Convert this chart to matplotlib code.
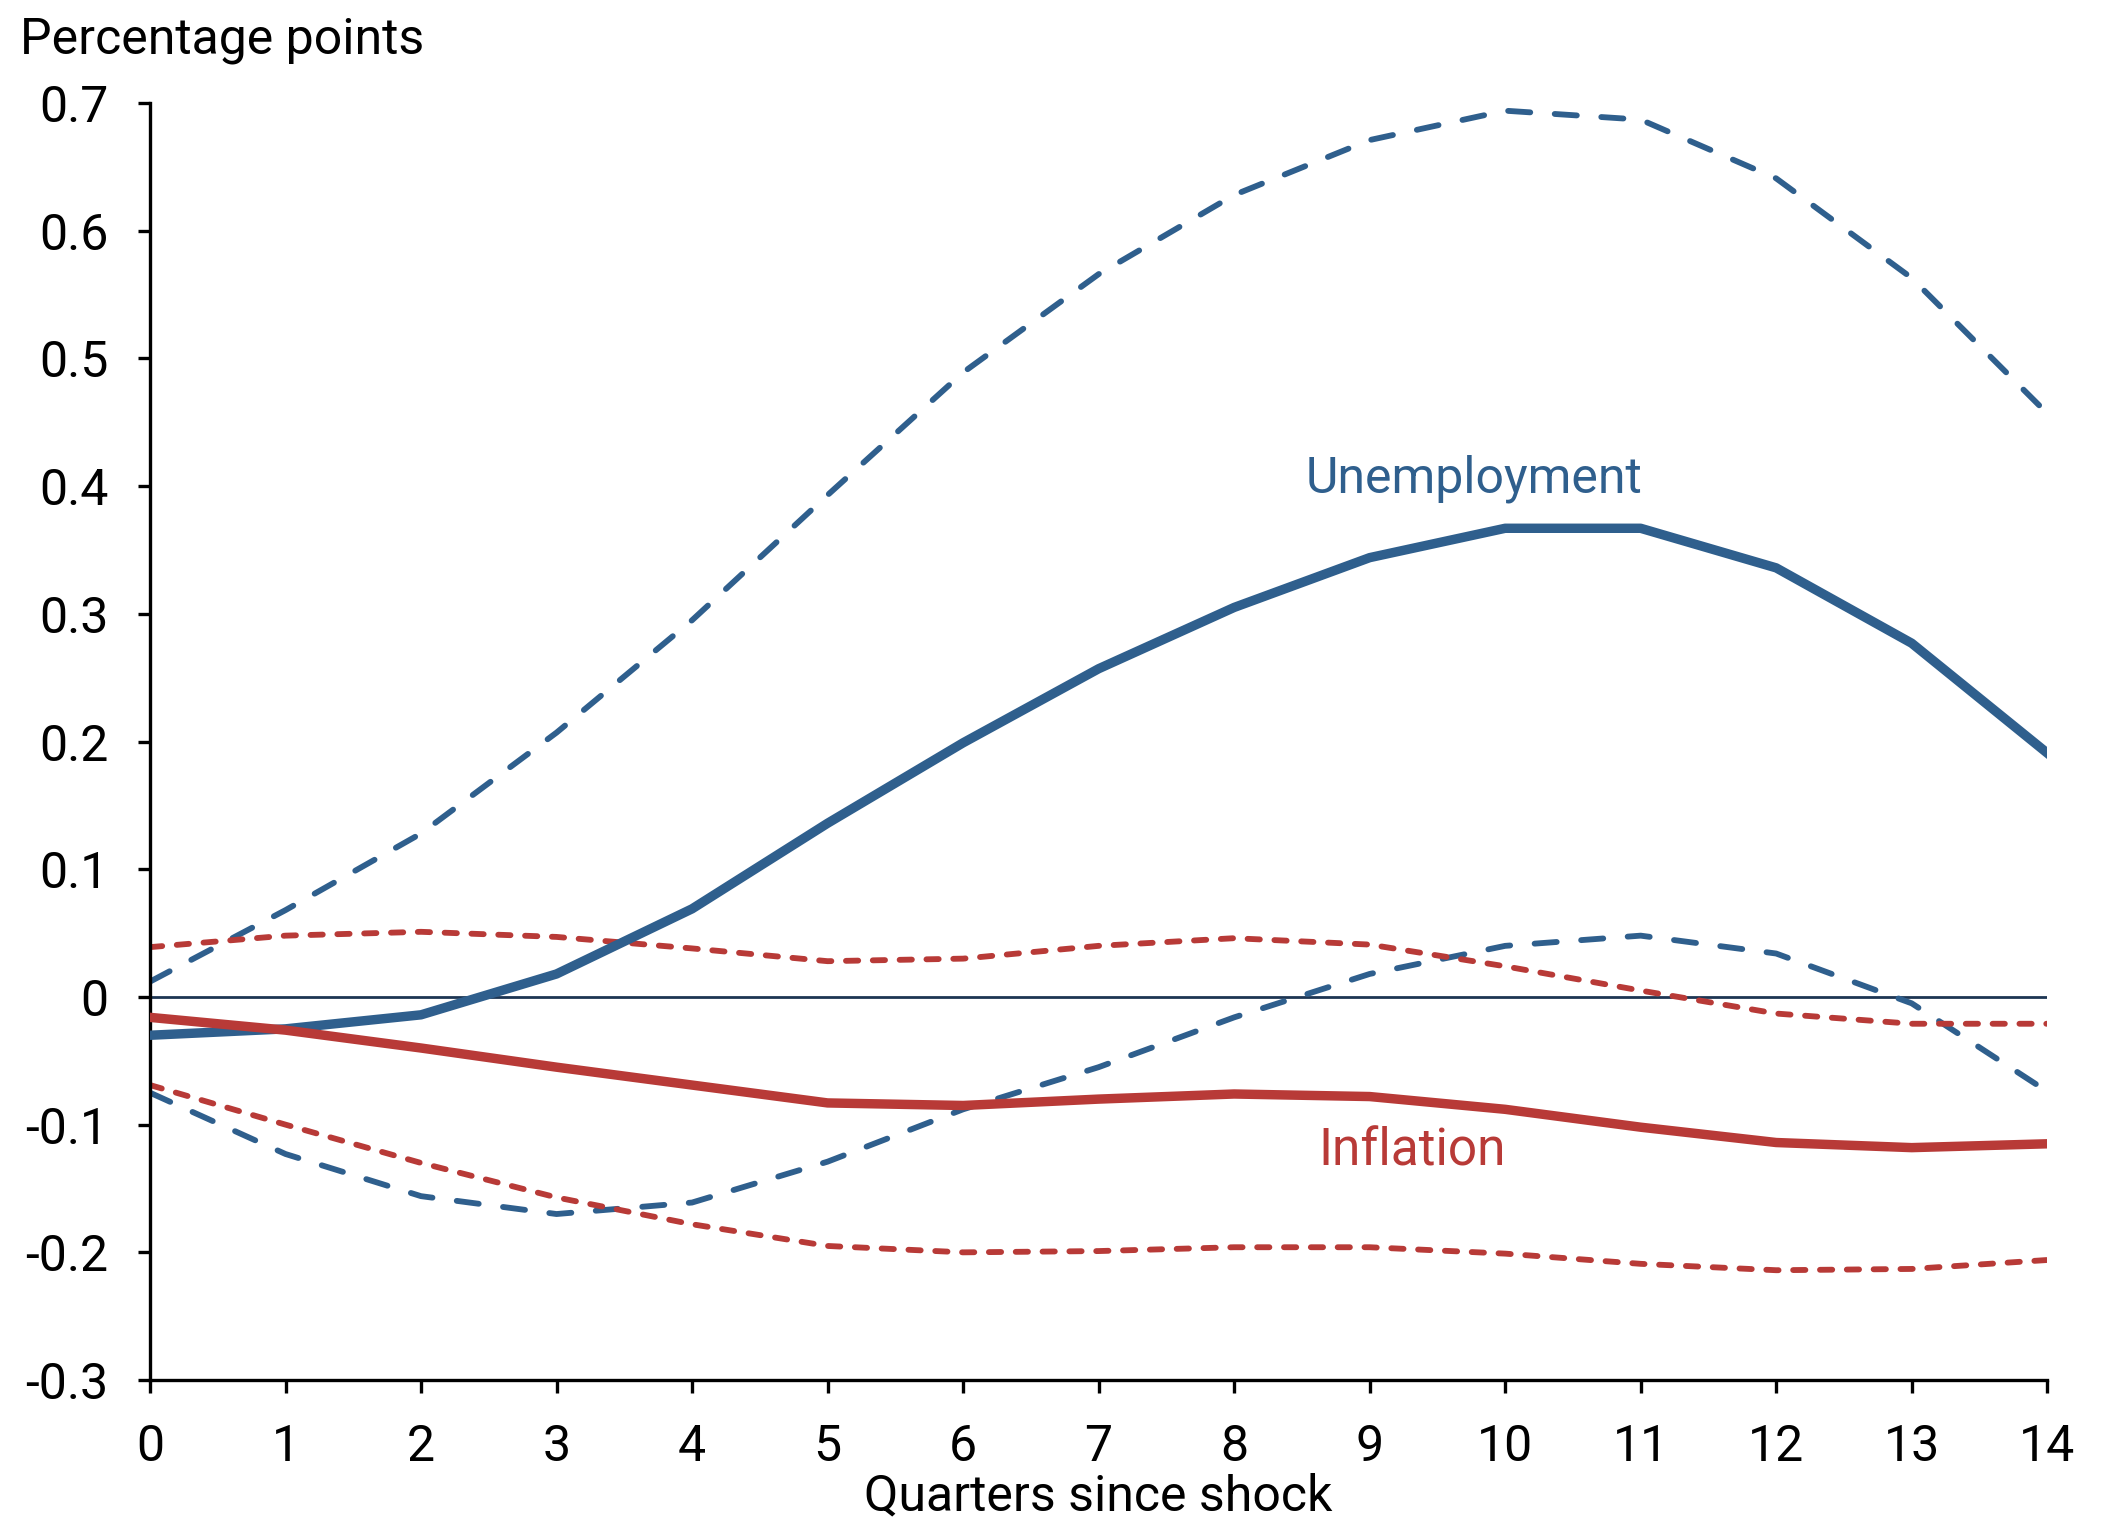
import matplotlib

matplotlib.use("Agg")
import matplotlib.pyplot as plt

plt.rcParams["font.family"] = ["Roboto", "DejaVu Sans"]

# quarters since shock
quarters = list(range(15))

# unemployment response and bands (percentage points)
unemp = [-0.030, -0.025, -0.014, 0.018, 0.069, 0.136, 0.199, 0.257, 0.305,
         0.344, 0.367, 0.367, 0.336, 0.277, 0.191]
unemp_hi = [0.012, 0.068, 0.128, 0.207, 0.295, 0.393, 0.489, 0.566, 0.628,
            0.671, 0.694, 0.687, 0.641, 0.563, 0.457]
unemp_lo = [-0.075, -0.123, -0.156, -0.170, -0.161, -0.129, -0.088, -0.055,
            -0.016, 0.018, 0.040, 0.048, 0.034, -0.005, -0.074]

# inflation response and bands
infl = [-0.016, -0.026, -0.040, -0.055, -0.069, -0.083, -0.085, -0.080,
        -0.076, -0.078, -0.088, -0.102, -0.114, -0.118, -0.115]
infl_hi = [0.039, 0.048, 0.051, 0.047, 0.038, 0.028, 0.030, 0.040, 0.046,
           0.041, 0.024, 0.005, -0.013, -0.021, -0.021]
infl_lo = [-0.069, -0.100, -0.130, -0.157, -0.178, -0.195, -0.200, -0.199,
           -0.196, -0.196, -0.201, -0.209, -0.214, -0.213, -0.206]

y_ticks = [-0.3, -0.2, -0.1, 0, 0.1, 0.2, 0.3, 0.4, 0.5, 0.6, 0.7]
y_tick_labels = ["-0.3", "-0.2", "-0.1", "0", "0.1", "0.2", "0.3", "0.4",
                 "0.5", "0.6", "0.7"]

BLUE = "#2f5f8d"
RED = "#b83a37"
FS = 36

fig = plt.figure(figsize=(21.04, 15.31), dpi=100)
ax = fig.add_axes([0.0713, 0.0986, 0.9017, 0.8341])

ax.axhline(0, color="#1d3553", lw=2.0, zorder=1)

band_blue = dict(color=BLUE, lw=4.2, dashes=(3.8, 4.2),
                 dash_capstyle="round", zorder=2)
band_red = dict(color=RED, lw=4.2, dashes=(2.1, 2.5),
                dash_capstyle="round", zorder=2)
ax.plot(quarters, unemp_hi, **band_blue)
ax.plot(quarters, unemp_lo, **band_blue)
ax.plot(quarters, infl_hi, **band_red)
ax.plot(quarters, infl_lo, **band_red)
ax.plot(quarters, unemp, color=BLUE, lw=6.8, zorder=3)
ax.plot(quarters, infl, color=RED, lw=6.8, zorder=3)

ax.text(9.77, 0.406, "Unemployment", color=BLUE, fontsize=FS,
        ha="center", va="center")
ax.text(9.31, -0.121, "Inflation", color=RED, fontsize=FS + 1,
        ha="center", va="center")

ax.set_xlim(0, 14)
ax.set_ylim(-0.3, 0.7)
ax.set_xticks(quarters)
ax.set_yticks(y_ticks)
ax.set_yticklabels(y_tick_labels)

for side in ("top", "right"):
    ax.spines[side].set_visible(False)
for side in ("left", "bottom"):
    ax.spines[side].set_linewidth(2.4)
    ax.spines[side].set_color("black")

ax.tick_params(axis="both", labelsize=FS, width=2.4, length=9,
               direction="out", color="black")
ax.tick_params(axis="x", pad=22)
ax.tick_params(axis="y", pad=21)

ax.set_xlabel("Quarters since shock", fontsize=FS, labelpad=1)
fig.text(20 / 2104, 1 - 40 / 1531, "Percentage points", fontsize=FS,
         ha="left", va="center")

fig.savefig("out.png", dpi=100)
